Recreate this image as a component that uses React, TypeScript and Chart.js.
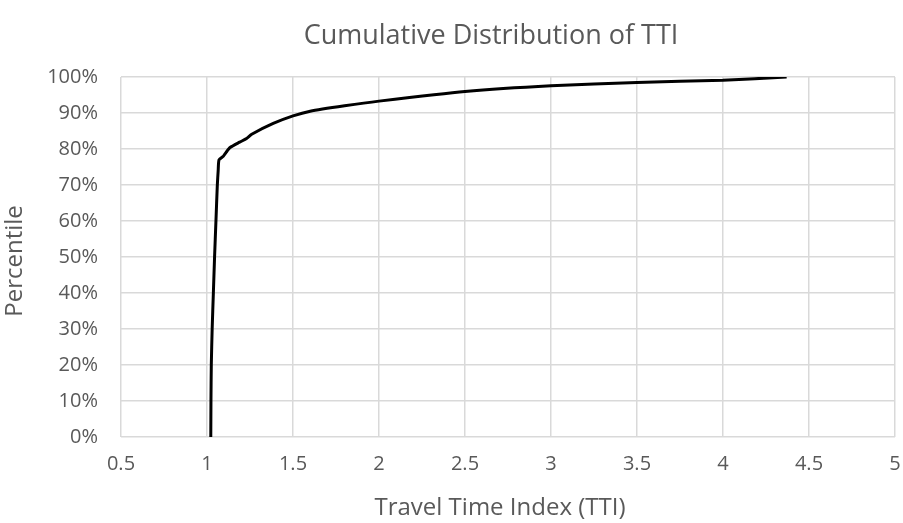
import React, { useEffect, useRef } from "react";
import { Chart, registerables } from "chart.js";

Chart.register(...registerables);

const tti: number[] = [1.022, 1.023, 1.025, 1.03, 1.037, 1.044, 1.052, 1.06, 1.065, 1.07, 1.095, 1.11, 1.134, 1.19, 1.23, 1.26, 1.385, 1.5, 1.6, 1.8, 2.0, 2.5, 3.0, 3.5, 4.0, 4.37];
const percentile: number[] = [0, 10, 20, 30, 40, 50, 60, 70, 74, 77, 78, 79, 80.4, 81.9, 82.9, 84.1, 87.1, 89.2, 90.5, 92, 93.3, 96, 97.6, 98.5, 99.1, 100];

const chartTitle = "Cumulative Distribution of TTI";
const xTitle = "Travel Time Index (TTI)";
const yTitle = "Percentile";

const FONT = "'Open Sans', sans-serif";
const GREY = "#595959";

const titlesPlugin = {
  id: "excelTitles",
  afterDraw(chart: any) {
    const { ctx, chartArea } = chart;
    ctx.save();
    ctx.fillStyle = GREY;
    ctx.textAlign = "center";
    ctx.textBaseline = "middle";
    ctx.font = `27px ${FONT}`;
    ctx.fillText(chartTitle, chartArea.left + 370, 36);
    ctx.font = `24px ${FONT}`;
    ctx.fillText(xTitle, chartArea.left + 379, 508);
    ctx.translate(15, (chartArea.top + chartArea.bottom) / 2 + 4);
    ctx.rotate(-Math.PI / 2);
    ctx.fillText(yTitle, 0, 0);
    ctx.restore();
  },
};

export default function App() {
  const ref = useRef<HTMLCanvasElement | null>(null);
  useEffect(() => {
    if (!ref.current) return;
    const chart = new Chart(ref.current, {
      type: "line",
      data: {
        datasets: [
          {
            data: tti.map((x, i) => ({ x, y: percentile[i] })),
            borderColor: "#000000",
            borderWidth: 3,
            pointRadius: 0,
            tension: 0.2,
            fill: false,
          },
        ],
      },
      plugins: [titlesPlugin],
      options: {
        animation: false,
        responsive: false,
        maintainAspectRatio: false,
        layout: { padding: { right: 8, left: 0, top: 77, bottom: 0 } },
        plugins: {
          legend: { display: false },
          tooltip: { enabled: false },
          title: { display: false },
        },
        scales: {
          x: {
            type: "linear",
            min: 0.5,
            max: 5,
            ticks: {
              stepSize: 0.5,
              color: GREY,
              font: { family: FONT, size: 20 },
              padding: 15,
              maxRotation: 0,
              callback: (v: any) => String(v),
            },
            grid: { color: "#d9d9d9", lineWidth: 1.5, drawTicks: false },
            border: { display: false },
            afterFit: (s: any) => {
              s.height = 86;
              s.paddingRight = 0;
              s.paddingLeft = 0;
            },
          },
          y: {
            min: 0,
            max: 100,
            ticks: {
              stepSize: 10,
              color: GREY,
              font: { family: FONT, size: 20 },
              padding: 23,
              callback: (v: any) => `${v}%`,
            },
            grid: { color: "#d9d9d9", lineWidth: 1.5, drawTicks: false },
            border: { display: false },
            afterFit: (s: any) => {
              s.width = 121;
              s.paddingTop = 0;
              s.paddingBottom = 0;
            },
          },
        },
      },
    });
    return () => chart.destroy();
  }, []);
  return (
    <div style={{ position: "fixed", left: 0, top: 0, width: 903, height: 523, background: "#fff" }}>
      <canvas ref={ref} width={903} height={523} style={{ width: 903, height: 523 }} />
    </div>
  );
}
